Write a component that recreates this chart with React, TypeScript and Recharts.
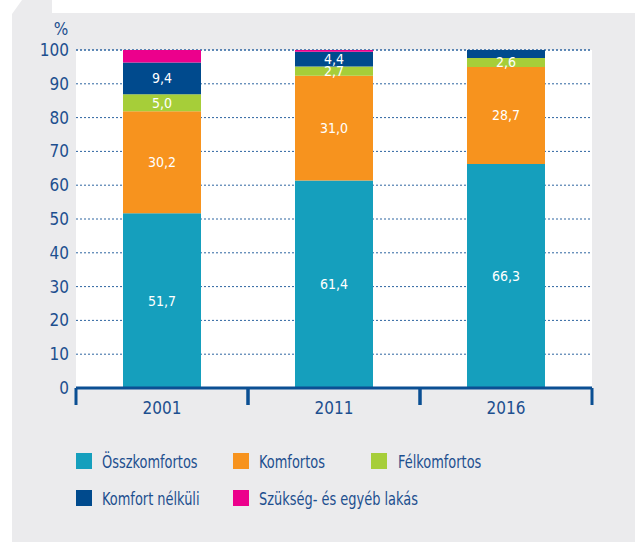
import React from "react";
import {
  BarChart,
  Bar,
  XAxis,
  YAxis,
  CartesianGrid,
  LabelList,
} from "recharts";

const years = ["2001", "2011", "2016"];
const osszkomfortos = [51.7, 61.4, 66.3];
const komfortos = [30.2, 31.0, 28.7];
const felkomfortos = [5.0, 2.7, 2.6];
const komfortNelkuli = [9.4, 4.4, 2.4];
const szukseg = [3.7, 0.5, 0];
const yTicks = [0, 10, 20, 30, 40, 50, 60, 70, 80, 90, 100];

const series = [
  { key: "ossz", name: "Összkomfortos", color: "#159fbd", label: true },
  { key: "komf", name: "Komfortos", color: "#f7931e", label: true },
  { key: "felk", name: "Félkomfortos", color: "#a6ce39", label: true },
  { key: "nelk", name: "Komfort nélküli", color: "#004a8d", label: true },
  { key: "szuk", name: "Szükség- és egyéb lakás", color: "#ec008c", label: false },
];

const data = years.map((year, i) => ({
  year,
  ossz: osszkomfortos[i],
  komf: komfortos[i],
  felk: felkomfortos[i],
  nelk: komfortNelkuli[i],
  szuk: szukseg[i],
}));

const FONT = "'Liberation Sans Narrow', 'DejaVu Sans Condensed', 'Roboto', sans-serif";
const TEXT = "#1d4f8f";
const AXIS = "#0b4f93";

const fmt = (v: any) => {
  const n = Number(v);
  if (!n || n < 2.5) return "";
  return n.toFixed(1).replace(".", ",");
};

const YearTick = (props: any) => {
  const { x, y, payload } = props;
  const half = payload.offset || 0;
  return (
    <g>
      <line x1={x - half} x2={x - half} y1={y} y2={y + 17} stroke={AXIS} strokeWidth={3} />
      <line x1={x + half} x2={x + half} y1={y} y2={y + 17} stroke={AXIS} strokeWidth={3} />
      <text x={x} y={y + 26} textAnchor="middle" fill={TEXT} fontSize={17} fontFamily={FONT}>
        {payload.value}
      </text>
    </g>
  );
};

const legendPos = [
  { left: 76, top: 452 },
  { left: 233, top: 452 },
  { left: 371, top: 452 },
  { left: 76, top: 489 },
  { left: 233, top: 489 },
];

export default function App() {
  return (
    <div
      style={{
        position: "absolute",
        left: 0,
        top: 0,
        width: 635,
        height: 542,
        background: "#fff",
        overflow: "hidden",
        fontFamily: FONT,
      }}
    >
      <div
        style={{
          position: "absolute",
          left: 12,
          top: 0,
          width: 623,
          height: 542,
          background: "#ebebed",
          clipPath: "polygon(0 14px, 10px 0, 100% 0, 100% 100%, 0 100%)",
        }}
      />
      <div
        style={{
          position: "absolute",
          left: 52,
          top: 0,
          width: 583,
          height: 13,
          background: "#fff",
        }}
      />
      <div
        style={{
          position: "absolute",
          left: 50,
          top: 19,
          width: 22,
          textAlign: "center",
          fontSize: 17,
          color: TEXT,
          lineHeight: "20px",
        }}
      >
        %
      </div>
      <div style={{ position: "absolute", left: 0, top: 0 }}>
        <BarChart
          width={635}
          height={430}
          data={data}
          margin={{ top: 50, right: 43, bottom: 0, left: 0 }}
          barSize={78}
        >
          <CartesianGrid
            vertical={false}
            fill="#ffffff"
            stroke="#2d64a0"
            strokeDasharray="2 2"
          />
          <XAxis
            dataKey="year"
            axisLine={{ stroke: AXIS, strokeWidth: 3 }}
            tickLine={false}
            tickSize={0}
            tickMargin={0}
            height={42}
            tick={<YearTick />}
            interval={0}
          />
          <YAxis
            domain={[0, 100]}
            ticks={yTicks}
            axisLine={false}
            tickLine={false}
            tickSize={0}
            tickMargin={7}
            width={76}
            tick={{ fill: TEXT, fontSize: 17, fontFamily: FONT }}
            interval={0}
          />
          {series.map((s) => (
            <Bar
              key={s.key}
              dataKey={s.key}
              name={s.name}
              stackId="a"
              fill={s.color}
              isAnimationActive={false}
            >
              {s.label && (
                <LabelList
                  dataKey={s.key}
                  position="center"
                  formatter={fmt}
                  fill="#ffffff"
                  fontSize={14}
                  fontFamily={FONT}
                />
              )}
            </Bar>
          ))}
        </BarChart>
      </div>
      {series.map((s, i) => (
        <div
          key={s.key}
          style={{
            position: "absolute",
            left: legendPos[i].left,
            top: legendPos[i].top,
            display: "flex",
            alignItems: "center",
            height: 18,
            fontSize: 18,
            color: TEXT,
            whiteSpace: "nowrap",
          }}
        >
          <span
            style={{
              display: "inline-block",
              width: 16,
              height: 16,
              background: s.color,
              marginRight: i === 2 ? 11 : 10,
            }}
          />
          <span
            style={{
              display: "inline-block",
              transform: "scaleX(0.8)",
              transformOrigin: "left center",
            }}
          >
            {s.name}
          </span>
        </div>
      ))}
    </div>
  );
}
